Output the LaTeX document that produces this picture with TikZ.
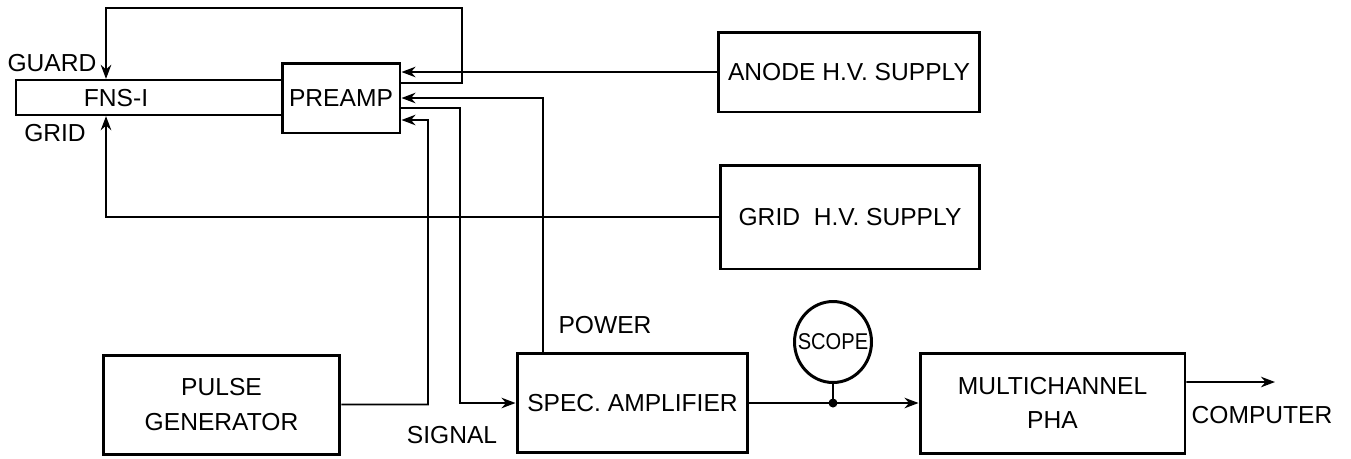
\documentclass[tikz,border=0pt]{standalone}
\usepackage{fontspec}
\setmainfont{Liberation Sans}
\usetikzlibrary{arrows.meta,shapes.geometric}
\begin{document}
\begin{tikzpicture}[x=0.02cm,y=-0.02cm,
    unit/.style={draw,line width=1.7pt,align=center,inner sep=0pt,font=\fontsize{14}{19.5}\selectfont},
    wire/.style={line width=1.1pt},
    tip/.style={-{Stealth[length=8pt,width=6pt]}},
    lbl/.style={font=\fontsize{14}{17}\selectfont,inner sep=0pt}]
  \useasboundingbox (0,0) rectangle (1351,458);
  \node[draw,line width=1.3pt,minimum width=5.32cm,minimum height=0.7cm,inner sep=0pt] (fns) at (149,97.5) {};
  \node[lbl] (fnslbl) at (116,98) {FNS-I};
  \node[unit,minimum width=2.36cm,minimum height=1.4cm] (preamp) at (341,98) {PREAMP};
  \node[unit,minimum width=5.24cm,minimum height=1.6cm] (anode) at (849,72) {ANODE H.V. SUPPLY};
  \node[unit,minimum width=5.2cm,minimum height=2.08cm] (gridhv) at (850,217) {GRID\ \ H.V. SUPPLY};
  \node[unit,minimum width=4.74cm,minimum height=1.98cm] (pulse) at (221.5,404.5) {PULSE\\GENERATOR};
  \node[unit,minimum width=4.62cm,minimum height=1.98cm] (spec) at (632.5,403) {SPEC. AMPLIFIER};
  \node[unit,minimum width=5.3cm,minimum height=2cm] (mca) at (1052.5,403) {MULTICHANNEL\\PHA};
  \node[draw,ellipse,line width=1.7pt,minimum width=1.54cm,minimum height=1.62cm,inner sep=0pt,
        font=\fontsize{13}{15}\selectfont] (scope) at (833,342) {\makebox[0pt]{\scalebox{0.88}[1]{SCOPE}}};
  \node[lbl] (guardlbl) at (52,63) {GUARD};
  \node[lbl] (gridlbl) at (55,133) {GRID};
  \node[lbl] (powerlbl) at (605,325) {POWER};
  \node[lbl] (signallbl) at (452,435) {SIGNAL};
  \node[lbl] (complbl) at (1262,415) {COMPUTER};
  \coordinate (gturn) at (462,8);
  \coordinate (sigturn) at (460,403);
  \coordinate (pulseturn) at (428,120);
  \coordinate (tap) at (833,403);
  \coordinate (compout) at (1275,382);
  \draw[wire,tip] ([yshift=0.3cm]preamp.east) -| (gturn) -| ([xshift=-0.86cm]fns.north);
  \draw[wire,tip] (anode.west) -- (anode.west -| preamp.east);
  \draw[wire,tip] (gridhv.west) -| ([xshift=-0.86cm]fns.south);
  \draw[wire,tip] ([xshift=-1.79cm]spec.north) |- (preamp.east);
  \draw[wire,tip] ([yshift=-0.2cm]preamp.east) -| (sigturn) -- (spec.west);
  \draw[wire,tip] (pulse.east) -| (pulseturn) -- ([yshift=-0.44cm]preamp.east);
  \draw[wire,tip] (spec.east) -- (mca.west);
  \draw[wire] (scope.south) -- (tap);
  \fill (tap) circle (0.09cm);
  \draw[wire,tip] ([yshift=0.42cm]mca.east) -- (compout);
\end{tikzpicture}
\end{document}
